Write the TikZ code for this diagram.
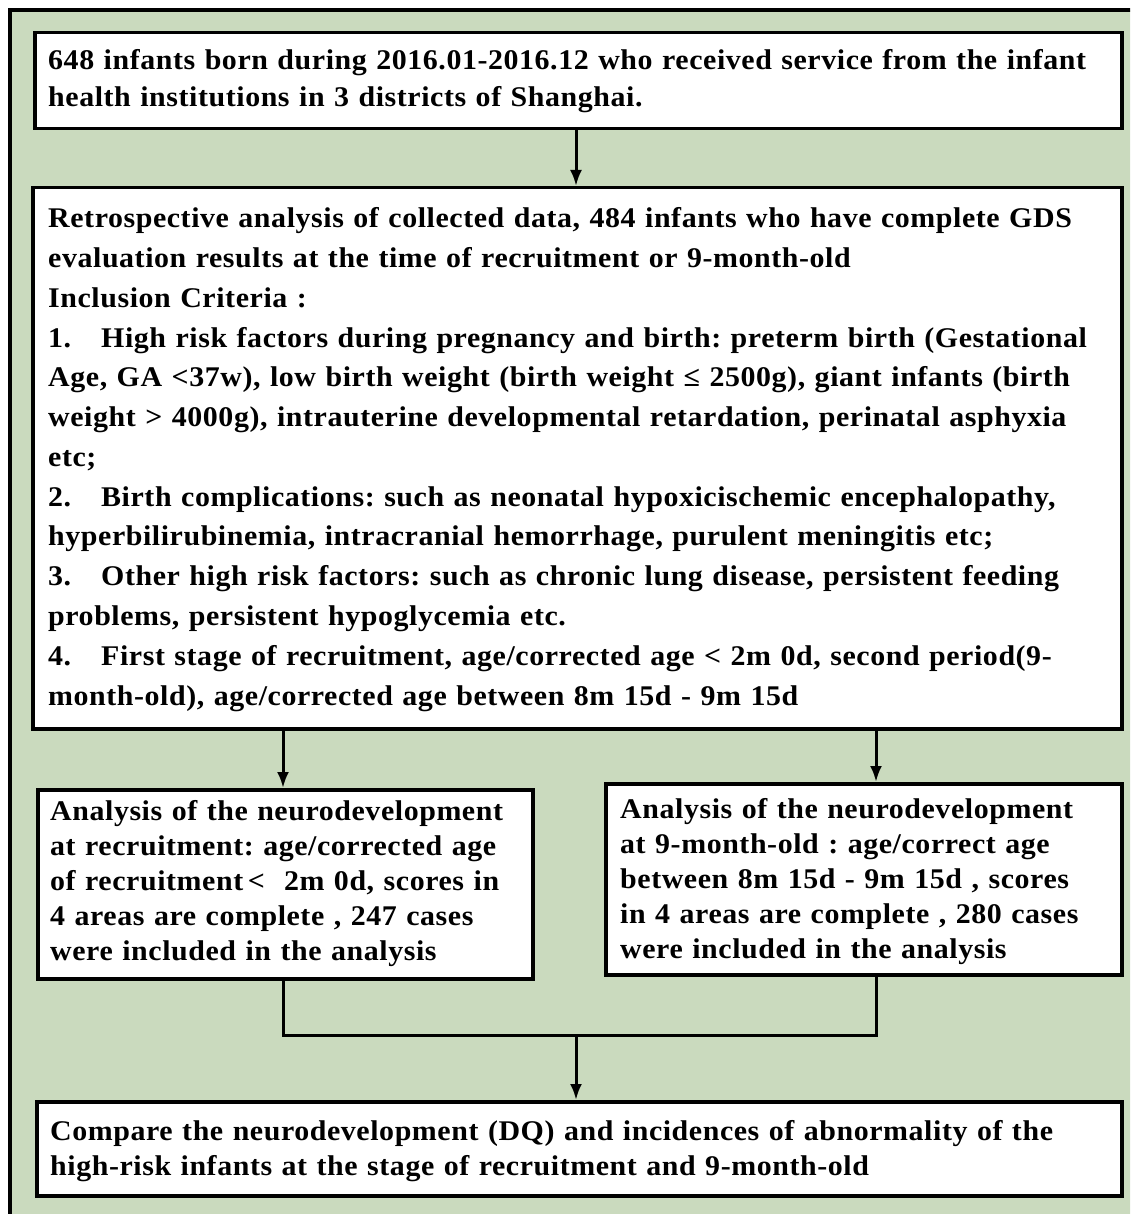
\documentclass[tikz,border=0pt]{standalone}
\usepackage{fontspec}
\setmainfont{Liberation Serif}[FakeStretch=1.05,LetterSpace=2]
\usetikzlibrary{arrows.meta}
\definecolor{bggreen}{RGB}{202,218,190}
\newcommand{\itemgap}{\hspace{30pt}}
\frenchspacing
\begin{document}
\begin{tikzpicture}[x=1pt,y=-1pt,
  box/.style={draw=black,line width=3.5pt,fill=white,anchor=north west,inner sep=0pt},
  txt/.style={anchor=base west,inner sep=0pt,align=left},
  arr/.style={line width=3pt,-{Latex[length=16pt,width=12pt]}},
  con/.style={line width=3pt}]
\useasboundingbox (0,0) rectangle (1130,1214);
\begin{scope}
\clip (0,0) rectangle (1130,1214);
\draw[line width=3.5pt,fill=bggreen] (10,10) rectangle (1150,1240);
\end{scope}

% boxes
\node[box,minimum width=1087pt,minimum height=96pt] (b1) at (33,31) {};
\node[box,minimum width=1089pt,minimum height=541pt] (b2) at (31,186) {};
\node[box,minimum width=495pt,minimum height=189pt] (b3) at (36,788) {};
\node[box,minimum width=516pt,minimum height=191pt] (b4) at (604,782) {};
\node[box,minimum width=1085pt,minimum height=94pt] (b5) at (35,1100) {};

% texts
\node[txt,text width=1068pt,font=\fontsize{28.5}{37}\selectfont\bfseries] (t1) at (48,70)
{648 infants born during 2016.01-2016.12 who received service from the infant\\
health institutions in 3 districts of Shanghai.};

\node[txt,text width=1068pt,font=\fontsize{28.5}{39.75}\selectfont\bfseries] (t2) at (48,228)
{Retrospective analysis of collected data, 484 infants who have complete GDS\\
evaluation results at the time of recruitment or 9-month-old\\
Inclusion Criteria :\\
1.\itemgap High risk factors during pregnancy and birth: preterm birth (Gestational\\
Age, GA <37w), low birth weight (birth weight ≤ 2500g), giant infants (birth\\
weight > 4000g), intrauterine developmental retardation, perinatal asphyxia\\
etc;\\
2.\itemgap Birth complications: such as neonatal hypoxicischemic encephalopathy,\\
hyperbilirubinemia, intracranial hemorrhage, purulent meningitis etc;\\
3.\itemgap Other high risk factors: such as chronic lung disease, persistent feeding\\
problems, persistent hypoglycemia etc.\\
4.\itemgap First stage of recruitment, age/corrected age < 2m 0d, second period(9-\\
month-old), age/corrected age between 8m 15d - 9m 15d};

\node[txt,text width=478pt,font=\fontsize{28.5}{35}\selectfont\bfseries] (t3) at (50,820)
{Analysis of the neurodevelopment\\
at recruitment: age/corrected age\\
of recruitment\,<\ \ 2m 0d, scores in\\
4 areas are complete , 247 cases\\
were included in the analysis};

\node[txt,text width=498pt,font=\fontsize{28.5}{35}\selectfont\bfseries] (t4) at (620,818)
{Analysis of the neurodevelopment\\
at 9-month-old : age/correct age\\
between 8m 15d - 9m 15d , scores\\
in 4 areas are complete , 280 cases\\
were included in the analysis};

\node[txt,text width=1068pt,font=\fontsize{28.5}{35}\selectfont\bfseries] (t5) at (50,1140)
{Compare the neurodevelopment (DQ) and incidences of abnormality of the\\
high-risk infants at the stage of recruitment and 9-month-old};

% connector guide coordinates
\coordinate (xm) at (576,0);
\coordinate (xl) at (283,0);
\coordinate (xr) at (876,0);
\coordinate (j) at (576,1035);

\draw[arr] (b1.south -| xm) -- (b2.north -| xm);
\draw[arr] (b2.south -| xl) -- (b3.north -| xl);
\draw[arr] (b2.south -| xr) -- (b4.north -| xr);
\draw[con] (b3.south -| xl) -- (j -| xl) -- (j -| xr) -- (b4.south -| xr);
\draw[arr] (j) -- (b5.north -| j);
\end{tikzpicture}
\end{document}
